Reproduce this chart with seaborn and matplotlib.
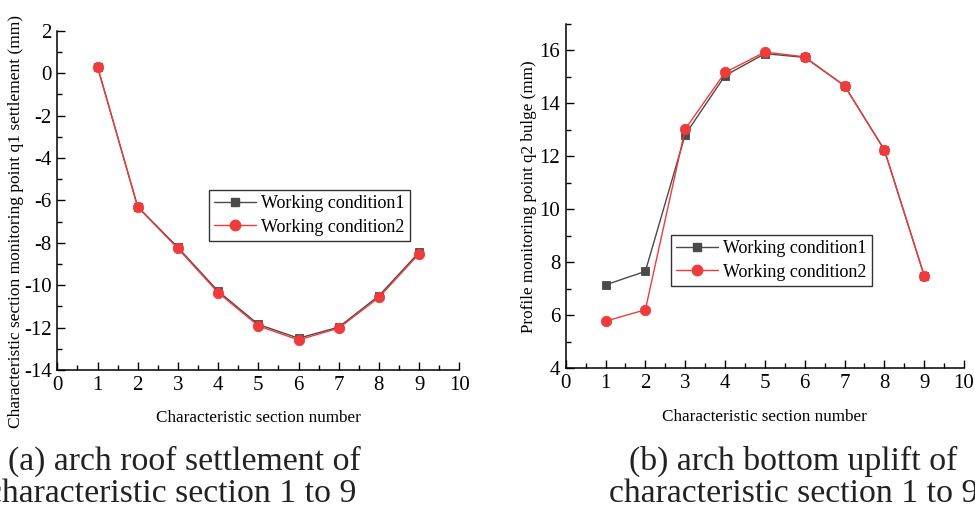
import matplotlib
matplotlib.use("Agg")
import matplotlib.pyplot as plt
import seaborn as sns
import pandas as pd
from matplotlib.ticker import MultipleLocator
from matplotlib.lines import Line2D

sections = [1, 2, 3, 4, 5, 6, 7, 8, 9]
settle_wc1 = [0.30, -6.30, -8.22, -10.28, -11.85, -12.50, -11.98, -10.50, -8.45]
settle_wc2 = [0.31, -6.32, -8.27, -10.35, -11.92, -12.58, -12.03, -10.58, -8.52]
bulge_wc1 = [7.15, 7.66, 12.82, 15.05, 15.88, 15.74, 14.67, 12.25, 7.50]
bulge_wc2 = [5.78, 6.21, 13.03, 15.17, 15.94, 15.76, 14.67, 12.25, 7.50]
series_names = ["Working condition1", "Working condition2"]
xlabel = "Characteristic section number"
ylabel_a = "Characteristic section monitoring point q1 settlement (mm)"
ylabel_b = "Profile monitoring point q2 bulge (mm)"
caption_a = ["(a) arch roof settlement of", "characteristic section 1 to 9"]
caption_b = ["(b) arch bottom uplift of", "characteristic section 1 to 9"]

sns.set_theme(style="ticks")
plt.rcParams["font.family"] = ["Liberation Serif", "DejaVu Serif"]
plt.rcParams["axes.unicode_minus"] = False

W, H = 975, 508
fig = plt.figure(figsize=(W / 100, H / 100), dpi=100)

def px_axes(x0, x1, ytop, ybot):
    return fig.add_axes([x0 / W, 1 - ybot / H, (x1 - x0) / W, (ybot - ytop) / H])

ax_a = px_axes(57.3, 459.3, 30.7, 370.0)
ax_b = px_axes(565.7, 964.0, 24.0, 368.3)

colors = {series_names[0]: "#4a4a4a", series_names[1]: "#ee3b3b"}
markers = {series_names[0]: "s", series_names[1]: "o"}
msize = {series_names[0]: 6, series_names[1]: 7.5}

def draw(ax, v1, v2):
    df = pd.DataFrame({
        "x": sections * 2,
        "y": list(v1) + list(v2),
        "s": [series_names[0]] * len(sections) + [series_names[1]] * len(sections),
    })
    for name in series_names:
        sub = df[df["s"] == name]
        sns.lineplot(data=sub, x="x", y="y", ax=ax, color=colors[name],
                     marker=markers[name], markersize=msize[name],
                     markeredgewidth=0.6, markeredgecolor=colors[name],
                     linewidth=1.0, legend=False)

draw(ax_a, settle_wc1, settle_wc2)
draw(ax_b, bulge_wc1, bulge_wc2)

for ax in (ax_a, ax_b):
    sns.despine(ax=ax)
    ax.set_xlim(0, 10)
    ax.xaxis.set_major_locator(MultipleLocator(1))
    ax.xaxis.set_minor_locator(MultipleLocator(0.5))
    ax.yaxis.set_major_locator(MultipleLocator(2))
    ax.yaxis.set_minor_locator(MultipleLocator(1))
    ax.tick_params(which="major", direction="in", length=6, width=1.0,
                   labelsize=15, color="black", labelcolor="black")
    ax.tick_params(which="minor", direction="in", length=3.5, width=1.0, color="black")
    ax.tick_params(axis="x", which="major", pad=4)
    ax.tick_params(axis="y", which="major", pad=4)
    for sp in ("left", "bottom"):
        ax.spines[sp].set_color("black")
        ax.spines[sp].set_linewidth(1.1)
    ax.set_facecolor("white")
    ax.set_xlabel(xlabel, fontsize=12.3, color="black")
    ax.xaxis.set_label_coords(0.5, -0.118)

ax_a.set_ylim(-14, 2)
ax_b.set_ylim(4, 17)
ax_a.set_ylabel(ylabel_a, fontsize=12.5, color="black")
ax_a.yaxis.set_label_coords(-0.083, 0.439)
ax_b.set_ylabel(ylabel_b, fontsize=12.3, color="black")
ax_b.yaxis.set_label_coords(-0.072, 0.4975)

handles = [Line2D([], [], color=colors[n], marker=markers[n], markersize=msize[n],
                  markeredgecolor=colors[n], linewidth=1.0) for n in series_names]
for ax, anchor in ((ax_a, (0.377, 0.5305)), (ax_b, (0.264, 0.387))):
    leg = ax.legend(handles, series_names, loc="upper left", bbox_to_anchor=anchor,
                    borderaxespad=0, fontsize=13, frameon=True, fancybox=False,
                    handlelength=2.3, handletextpad=0.3, labelspacing=0.35,
                    borderpad=0.3)
    leg.get_frame().set_edgecolor("black")
    leg.get_frame().set_linewidth(1.0)
    for t in leg.get_texts():
        t.set_color("black")

cap_kw = dict(fontsize=24.3, ha="center", va="baseline", color="#222222",
              family=["Liberation Serif", "DejaVu Serif"])
fig.text(184 / W, 1 - 470 / H, caption_a[0], **cap_kw)
fig.text(172 / W, 1 - 502 / H, caption_a[1], **cap_kw)
fig.text(793.5 / W, 1 - 470 / H, caption_b[0], **cap_kw)
fig.text(793.5 / W, 1 - 502 / H, caption_b[1], **cap_kw)

fig.savefig("out.png", dpi=100, facecolor="white")
